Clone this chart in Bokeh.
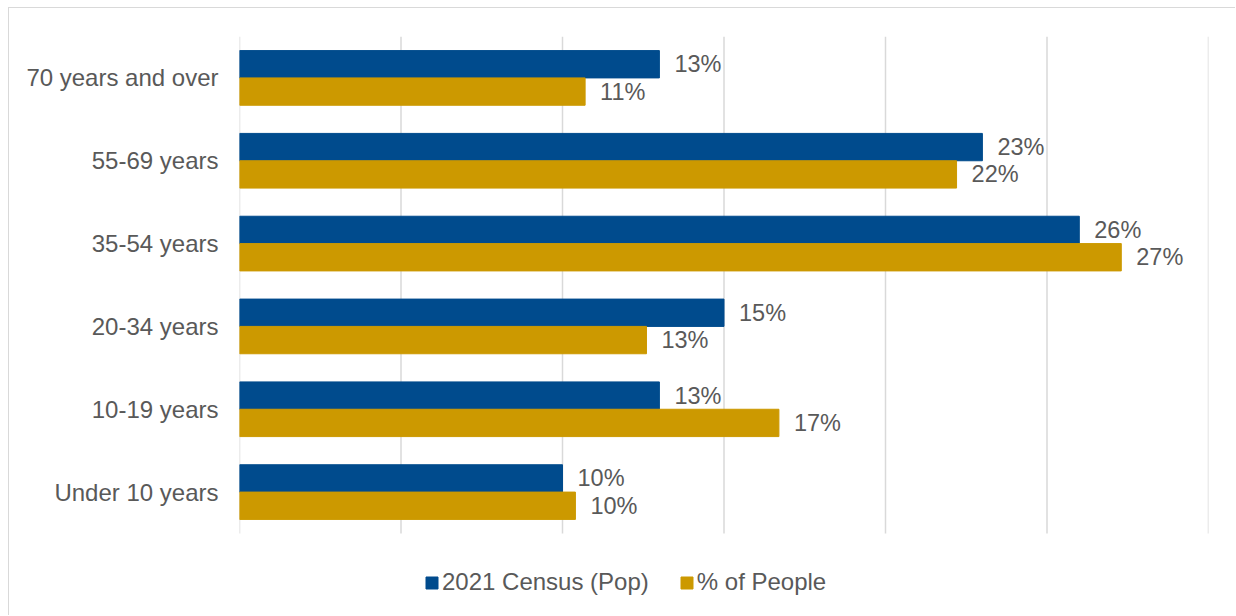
from bokeh.plotting import figure
from bokeh.models import ColumnDataSource, Range1d, FixedTicker, Legend, LegendItem
from bokeh.core.properties import value
from bokeh.embed import file_html
from bokeh.resources import INLINE

categories = ["Under 10 years", "10-19 years", "20-34 years", "35-54 years", "55-69 years", "70 years and over"]
census_pop = [10.0, 13.0, 15.0, 26.0, 23.0, 13.0]
pct_people = [10.4, 16.7, 12.6, 27.3, 22.2, 10.7]
series_names = ["2021 Census (Pop)", "% of People"]
x_ticks = [0, 5, 10, 15, 20, 25, 30]

BLUE = "#004b8d"
GOLD = "#cc9900"
TEXT = "#595959"
GRID = "#d9d9d9"
FONT = "Liberation Sans"

idx = list(range(len(categories)))
off = 0.165
src = ColumnDataSource(dict(
    y_pop=[i + off for i in idx],
    y_ppl=[i - off for i in idx],
    pop=census_pop,
    ppl=pct_people,
    pop_lbl=[f"{round(v)}%" for v in census_pop],
    ppl_lbl=[f"{round(v)}%" for v in pct_people],
))

p = figure(width=1227, height=608, x_range=Range1d(0, 30), y_range=Range1d(-1.502, 5.5),
           output_backend="svg", toolbar_location=None,
           min_border_left=230, min_border_right=28, min_border_top=28, min_border_bottom=0)
p.styles = {"margin-left": "8px", "margin-top": "7px",
            "border-top": "1px solid #d9d9d9", "border-left": "1px solid #d9d9d9"}
p.outline_line_color = None
p.xgrid.visible = False
p.ygrid.visible = False

# vertical gridlines limited to the category area
p.segment(x0=x_ticks, x1=x_ticks, y0=-0.5, y1=len(categories) - 0.5,
          line_color=GRID, line_width=1.5)

r1 = p.hbar(y="y_pop", right="pop", height=0.33, source=src,
            fill_color=BLUE, line_color=BLUE)
r2 = p.hbar(y="y_ppl", right="ppl", height=0.33, source=src,
            fill_color=GOLD, line_color=GOLD)

p.text(x="pop", y="y_pop", text="pop_lbl", source=src,
       x_offset=15, text_baseline="middle", text_align="left",
       text_font=value(FONT), text_font_size="23.5px", text_color=TEXT)
p.text(x="ppl", y="y_ppl", text="ppl_lbl", source=src,
       x_offset=15, text_baseline="middle", text_align="left",
       text_font=value(FONT), text_font_size="23.5px", text_color=TEXT)

p.xaxis.visible = False

yax = p.yaxis[0]
yax.ticker = FixedTicker(ticks=idx)
yax.major_label_overrides = {i: c for i, c in zip(idx, categories)}
yax.axis_line_color = None
yax.major_tick_line_color = None
yax.minor_tick_line_color = None
yax.major_tick_out = 0
yax.major_label_standoff = 21
yax.major_label_text_font = FONT
yax.major_label_text_font_size = "24px"
yax.major_label_text_color = TEXT

legend = Legend(items=[LegendItem(label=series_names[0], renderers=[r1]),
                       LegendItem(label=series_names[1], renderers=[r2])],
                orientation="horizontal", location=(185, 20),
                glyph_width=15, glyph_height=15, label_standoff=3, spacing=30,
                padding=0, margin=0, border_line_color=None, background_fill_alpha=0,
                label_text_font=FONT, label_text_font_size="24px", label_text_color=TEXT)
p.add_layout(legend, "center")

open("out.html", "w").write(file_html(p, INLINE))
